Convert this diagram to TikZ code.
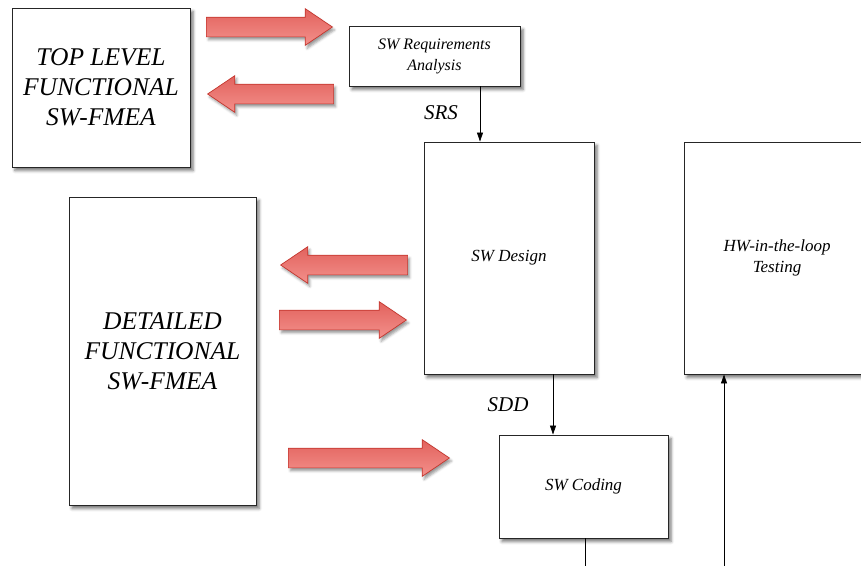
\documentclass[tikz,border=0pt]{standalone}
\usepackage{fontspec}
\setmainfont{Liberation Serif}
\usetikzlibrary{shapes.arrows,shadows.blur,arrows.meta}
\definecolor{arrowtop}{HTML}{E2625D}
\definecolor{arrowbot}{HTML}{F3908B}
\definecolor{arrowline}{HTML}{C4362E}
\begin{document}
\begin{tikzpicture}[x=1pt,y=-1pt,
  box/.style={draw=black!85, line width=0.9pt, fill=white, align=center, inner sep=0pt,
    blur shadow={shadow xshift=3pt, shadow yshift=-3.5pt, shadow blur radius=3pt, shadow opacity=55}},
  bigtext/.style={font=\fontsize{25.5}{30}\selectfont\itshape},
  smalltext/.style={font=\fontsize{16}{21}\selectfont\itshape},
  midtext/.style={font=\fontsize{17}{21}\selectfont\itshape},
  flowlabel/.style={font=\fontsize{21}{24}\selectfont\itshape},
  flow/.style={line width=0.8pt, -{Triangle[length=9pt,width=6pt]}},
  blockarrow/.style={single arrow, draw=arrowline, line width=0.7pt,
    top color=arrowtop, bottom color=arrowbot, inner xsep=0pt, inner ysep=9.5pt,
    minimum width=36pt, single arrow head extend=8.5pt,
    single arrow tip angle=68, single arrow head indent=0pt,
    blur shadow={shadow xshift=2pt, shadow yshift=-3pt, shadow blur radius=2.5pt, shadow opacity=40}},
  rightarrow/.style={blockarrow, anchor=tip},
  leftarrow/.style={blockarrow, shape border rotate=180, anchor=tip}]
\useasboundingbox (0,0) rectangle (861,565);
\clip (0,0) rectangle (861,565);

% process boxes
\node[box, bigtext, minimum width=178pt, minimum height=159pt] (top) at (101,87.5)
  {TOP LEVEL\\FUNCTIONAL\\SW-FMEA};
\node[box, smalltext, minimum width=171pt, minimum height=60pt] (req) at (434.5,56)
  {SW Requirements\\Analysis};
\node[box, midtext, minimum width=170pt, minimum height=232pt] (design) at (509,258)
  {SW Design};
\node[box, midtext, minimum width=186pt, minimum height=232pt] (hw) at (777,258)
  {HW-in-the-loop\\Testing};
\node[box, bigtext, minimum width=187pt, minimum height=308pt] (detailed) at (162.5,351)
  {DETAILED\\FUNCTIONAL\\SW-FMEA};
\node[box, midtext, minimum width=169pt, minimum height=103pt] (coding) at (583.5,486.5)
  {SW Coding};

% flow connectors
\coordinate (srsx) at (480,0);
\coordinate (sddx) at (553,0);
\coordinate (codeout) at (585,570);
\coordinate (hwin) at (724,570);
\draw[flow] (req.south -| srsx) -- (design.north -| srsx);
\draw[flow] (design.south -| sddx) -- (coding.north -| sddx);
\draw[line width=0.8pt] (coding.south -| codeout) -- (codeout);
\draw[flow] (hwin) -- (hw.south -| hwin);
\node[flowlabel] (srs) at (441,113) {SRS};
\node[flowlabel] (sdd) at (508,405) {SDD};

% exchange arrows between analysis and process
\node[rightarrow, minimum height=126pt] (a1) at (333,27) {};
\node[leftarrow, minimum height=126pt] (a2) at (207,94) {};
\node[leftarrow, minimum height=127pt] (a3) at (280,265) {};
\node[rightarrow, minimum height=127pt] (a4) at (407,320) {};
\node[rightarrow, minimum height=161pt] (a5) at (450,458) {};
\end{tikzpicture}
\end{document}
